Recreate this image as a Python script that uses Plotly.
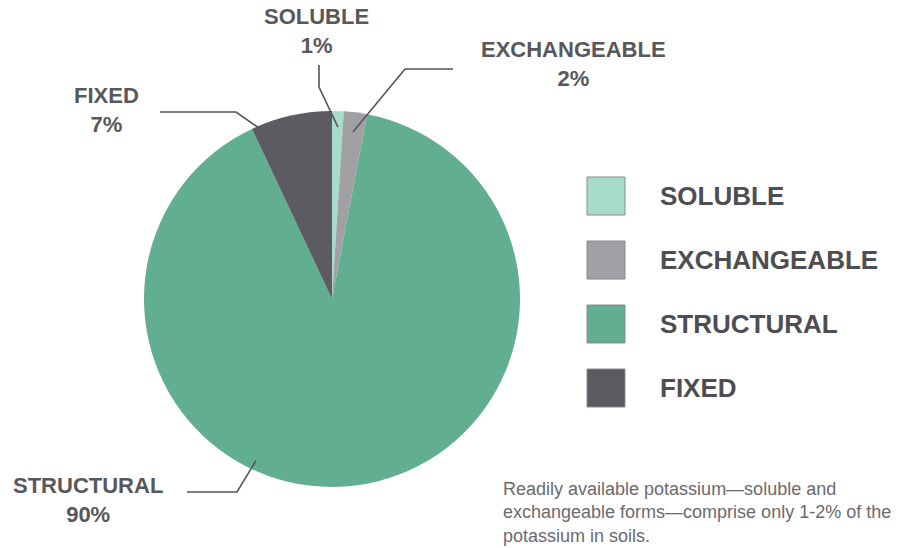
import math
import plotly.graph_objects as go

# ---- data ----
categories = ["SOLUBLE", "EXCHANGEABLE", "STRUCTURAL", "FIXED"]
values = [1, 2, 90, 7]
pct_labels = ["1%", "2%", "90%", "7%"]
colors = ["#a7dcc8", "#a0a0a5", "#62ae90", "#5c5b62"]
note_lines = [
    "Readily available potassium\u2014soluble and",
    "exchangeable forms\u2014comprise only 1-2% of the",
    "potassium in soils.",
]

W, H = 899, 548
CX, CY, R = 332, 299, 188

def px(x):
    return x / W

def py(y):
    return 1 - y / H

fig = go.Figure(go.Pie(
    labels=categories, values=values, sort=False, direction="clockwise",
    rotation=0, marker=dict(colors=colors, line=dict(width=0)),
    textinfo="none", hoverinfo="label+percent", showlegend=False,
    domain=dict(x=[px(CX - R), px(CX + R)], y=[py(CY + R), py(CY - R)]),
))

# leader lines: anchor on the slice computed from the data
total = sum(values)
cum = [sum(values[:i]) for i in range(len(values))]
anchor_frac = [0.55, 0.49, 0.60, 0.11]   # position within slice
anchor_r = [0.915, 0.895, 0.95, 0.97]
elbows = [[(319, 65), (319, 87)], [(453, 69), (405, 69)],
          [(187, 492), (237, 492)], [(160, 112), (236, 112)]]
label_pos = [(316, 31), (573, 64), (88, 500), (106, 110)]

shapes = []
annotations = []
for i, cat in enumerate(categories):
    ang = 2 * math.pi * (cum[i] + anchor_frac[i] * values[i]) / total
    ax = CX + anchor_r[i] * R * math.sin(ang)
    ay = CY - anchor_r[i] * R * math.cos(ang)
    pts = elbows[i] + [(ax, ay)]
    path = "M " + " L ".join(f"{px(x):.5f},{py(y):.5f}" for x, y in pts)
    shapes.append(dict(type="path", path=path, xref="paper", yref="paper",
                       line=dict(color="#555559", width=1.6)))
    lx, ly = label_pos[i]
    annotations.append(dict(
        x=px(lx), y=py(ly), xref="paper", yref="paper", showarrow=False,
        xanchor="center", yanchor="middle", align="center",
        text=f"<b>{cat}</b><br><b>{pct_labels[i]}</b>",
        font=dict(family="Liberation Sans, Arial, sans-serif", size=22, color="#58585b")))

# custom legend
for i, cat in enumerate(categories):
    top = 177 + 64 * i
    shapes.append(dict(type="rect", xref="paper", yref="paper",
                       x0=px(587), x1=px(625), y0=py(top + 38), y1=py(top),
                       fillcolor=colors[i], line=dict(color="#8a8a8e", width=1)))
    annotations.append(dict(
        x=px(658), y=py(top + 19), xref="paper", yref="paper", showarrow=False,
        xanchor="left", yanchor="middle", text=f"<b>{cat}</b>",
        font=dict(family="Liberation Sans, Arial, sans-serif", size=26, color="#4e4e52")))

annotations.append(dict(
    x=px(501), y=py(512), xref="paper", yref="paper", showarrow=False,
    xanchor="left", yanchor="middle", align="left",
    text="<br>".join(note_lines),
    font=dict(family="Liberation Sans, Arial, sans-serif", size=18, color="#6a6a6e")))

fig.update_layout(
    width=W, height=H, margin=dict(l=0, r=0, t=0, b=0),
    paper_bgcolor="white", plot_bgcolor="white",
    shapes=shapes, annotations=annotations,
)

fig.write_html(
    "out.html",
    config={"displayModeBar": False},
    post_script="document.body.style.margin='0';document.body.style.overflow='hidden';",
)
